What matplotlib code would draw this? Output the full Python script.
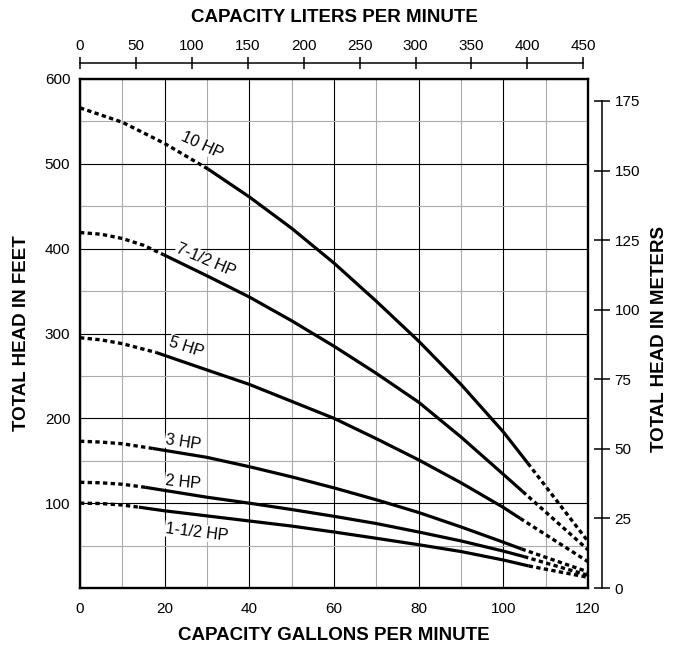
import matplotlib
matplotlib.use("Agg")
import matplotlib.pyplot as plt
from matplotlib.ticker import MultipleLocator

plt.rcParams['font.family'] = ['Liberation Sans', 'DejaVu Sans']

GAL_TO_L = 3.785
FT_TO_M = 0.3048

# pump curves: gpm and total head in feet
GPM_10 = [0, 10, 20, 30.2, 40, 50, 60, 70, 80, 90, 100, 105.8, 120]
FT_10 = [566, 549, 524, 494, 461, 424, 383, 338, 291, 240, 184, 147, 55]

GPM_75 = [0, 5, 10, 15, 19.7, 30, 40, 50, 60, 70, 80, 90, 100, 104.6, 120]
FT_75 = [419, 417, 412, 404, 393, 368, 343, 315, 285, 253, 219, 178, 134, 113.6, 45]

GPM_5 = [0, 5, 10, 18, 30, 40, 50, 60, 70, 80, 90, 100, 104, 120]
FT_5 = [295, 292.5, 288, 277.6, 257, 240, 220, 200, 176, 151, 124, 95, 82, 31]

GPM_3 = [0, 5, 10, 17.2, 30, 40, 50, 60, 70, 80, 90, 100, 104.3, 120]
FT_3 = [173, 172, 170, 164.5, 154, 143, 131, 118, 104, 89, 72, 54, 46, 19]

GPM_2 = [0, 5, 10, 15.4, 30, 40, 50, 60, 70, 80, 90, 100, 104.9, 120]
FT_2 = [124.6, 124, 122.3, 118.7, 107, 100, 92.5, 84.5, 76, 66, 55.5, 43.5, 37, 15]

GPM_15 = [0, 5, 10, 13.9, 20, 30, 40, 50, 60, 70, 80, 90, 100, 106, 120]
FT_15 = [100, 99.6, 97.8, 95.3, 91, 85, 79, 73, 66, 58.6, 51, 43, 33, 26, 12.6]

# gpm range where each curve is drawn solid (dotted outside it)
SOLID = {
    "10 HP": (30.2, 105.8),
    "7-1/2 HP": (19.7, 104.6),
    "5 HP": (18, 104),
    "3 HP": (17.2, 104.3),
    "2 HP": (15.4, 104.9),
    "1-1/2 HP": (13.9, 106),
}

CURVES = [
    ("10 HP", GPM_10, FT_10),
    ("7-1/2 HP", GPM_75, FT_75),
    ("5 HP", GPM_5, FT_5),
    ("3 HP", GPM_3, FT_3),
    ("2 HP", GPM_2, FT_2),
    ("1-1/2 HP", GPM_15, FT_15),
]

# label anchor (gpm, ft) and rotation
LABELS = {
    "10 HP": (28.8, 522, -25),
    "7-1/2 HP": (29.7, 386, -23),
    "5 HP": (25.2, 284, -18),
    "3 HP": (24.4, 172, -9),
    "2 HP": (24.4, 125, -6),
    "1-1/2 HP": (27.6, 66, -7),
}

W, H = 681, 646
fig = plt.figure(figsize=(W / 100, H / 100), dpi=100)
ax = fig.add_axes([80 / W, 1 - 588 / H, 508 / W, 509 / H])

ax.set_xlim(0, 120)
ax.set_ylim(0, 600)
ax.set_xticks(range(0, 121, 20))
ax.set_yticks(range(100, 601, 100))
ax.xaxis.set_minor_locator(MultipleLocator(10))
ax.yaxis.set_minor_locator(MultipleLocator(50))
ax.grid(which='major', color='black', lw=0.8, zorder=1)
ax.grid(which='minor', color='#ababab', lw=0.8, zorder=1)
ax.set_axisbelow(True)
ax.tick_params(which='both', length=0, labelsize=11)
ax.tick_params(axis='x', pad=10)
ax.tick_params(axis='y', pad=7)
for s in ax.spines.values():
    s.set_linewidth(1.7)

for name, g, f in CURVES:
    s0, s1 = SOLID[name]
    i0 = g.index(s0)
    i1 = g.index(s1)
    ax.plot(g[:i0 + 1], f[:i0 + 1], color='black', lw=2.4,
            linestyle=(0, (1.3, 1.0)), zorder=3)
    ax.plot(g[i0:i1 + 1], f[i0:i1 + 1], color='black', lw=2.3,
            solid_capstyle='butt', solid_joinstyle='round', zorder=3)
    ax.plot(g[i1:], f[i1:], color='black', lw=2.4,
            linestyle=(0, (1.3, 1.0)), zorder=3)
    lx, ly, rot = LABELS[name]
    ax.text(lx, ly, name, fontsize=11.5, rotation=rot, ha='center', va='center',
            rotation_mode='anchor', zorder=4,
            bbox=dict(facecolor='white', edgecolor='none', pad=0.6))

# top axis in liters per minute
axt = ax.twiny()
axt.set_xlim(0, 120 * GAL_TO_L)
axt.set_xticks(range(0, 451, 50))
for k in ['bottom', 'left', 'right']:
    axt.spines[k].set_visible(False)
axt.spines['top'].set_position(('outward', 11.5))
axt.spines['top'].set_bounds(0, 450)
axt.spines['top'].set_linewidth(1.1)
axt.tick_params(axis='x', direction='inout', length=9, width=1.1, pad=3, labelsize=11)

# right axis in meters
axr = ax.twinx()
axr.set_ylim(0, 600 * FT_TO_M)
axr.set_yticks(range(0, 176, 25))
for k in ['top', 'left', 'bottom']:
    axr.spines[k].set_visible(False)
axr.spines['right'].set_position(('outward', 10))
axr.spines['right'].set_bounds(0, 175)
axr.spines['right'].set_linewidth(1.1)
axr.tick_params(axis='y', direction='inout', length=11, width=1.1, pad=3.5, labelsize=11)

bold = dict(fontsize=13.5, fontweight='bold', ha='center', va='center')
fig.text(334 / W, 1 - 635 / H, "CAPACITY GALLONS PER MINUTE", **bold)
fig.text(334 / W, 1 - 18 / H, "CAPACITY LITERS PER MINUTE", **bold)
fig.text(22 / W, 1 - 333 / H, "TOTAL HEAD IN FEET", rotation=90, **bold)
fig.text(660 / W, 1 - 339 / H, "TOTAL HEAD IN METERS", rotation=90, **bold)

fig.savefig("out.png", dpi=100)
